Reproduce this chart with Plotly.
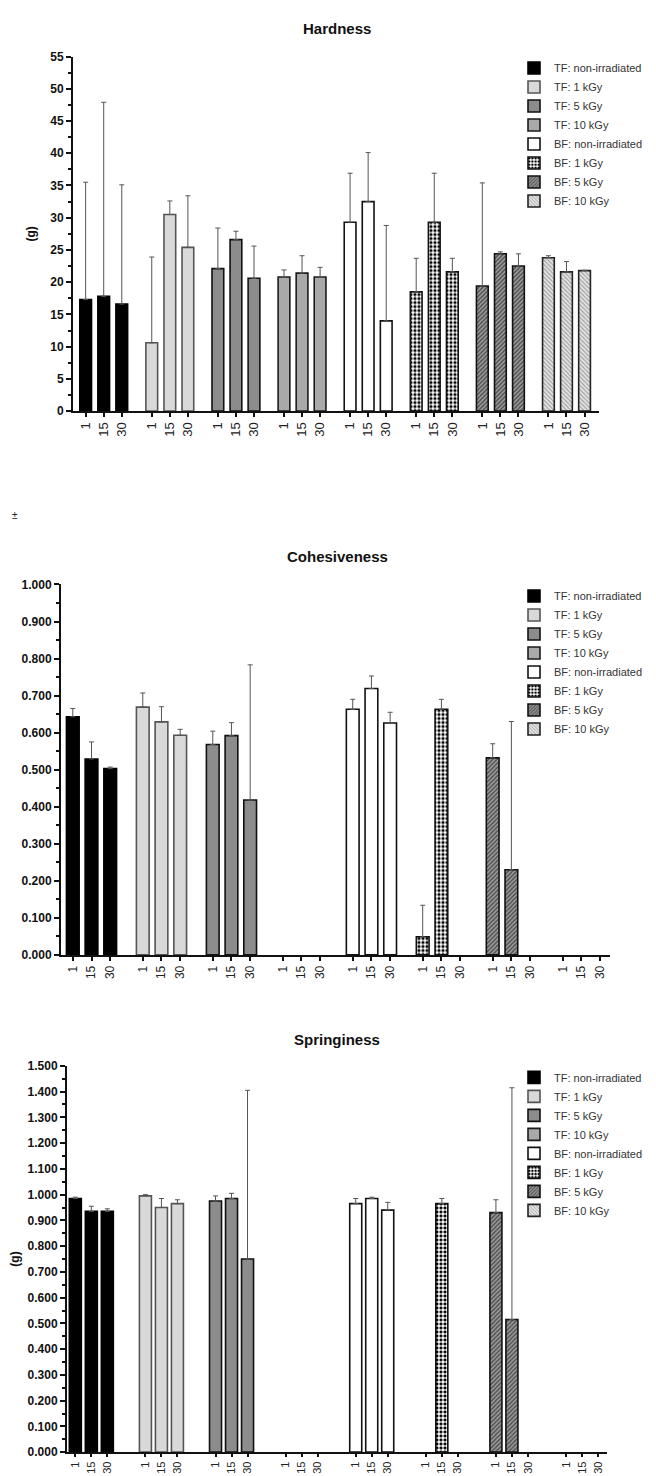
import plotly.graph_objects as go

W, H = 656, 1476

series_names = ["TF: non-irradiated", "TF: 1 kGy", "TF: 5 kGy", "TF: 10 kGy",
                "BF: non-irradiated", "BF: 1 kGy", "BF: 5 kGy", "BF: 10 kGy"]
days = ["1", "15", "30"]

hardness_mean = [[17.3, 17.8, 16.6], [10.6, 30.5, 25.4], [22.1, 26.6, 20.6], [20.8, 21.4, 20.8],
                 [29.3, 32.5, 14.0], [18.5, 29.3, 21.6], [19.4, 24.4, 22.5], [23.8, 21.6, 21.8]]
hardness_sd = [[18.2, 30.1, 18.5], [13.3, 2.1, 8.0], [6.3, 1.3, 5.0], [1.1, 2.7, 1.5],
               [7.6, 7.6, 14.8], [5.2, 7.6, 2.1], [16.0, 0.3, 1.9], [0.3, 1.6, 0.05]]

cohesiveness_mean = [[0.643, 0.529, 0.503], [0.669, 0.629, 0.593], [0.568, 0.592, 0.418], [None, None, None],
                     [0.663, 0.719, 0.626], [0.049, 0.663, None], [0.532, 0.230, None], [None, None, None]]
cohesiveness_sd = [[0.022, 0.046, 0.004], [0.038, 0.041, 0.016], [0.036, 0.035, 0.365], [None, None, None],
                   [0.027, 0.034, 0.029], [0.085, 0.027, None], [0.038, 0.400, None], [None, None, None]]

springiness_mean = [[0.985, 0.935, 0.935], [0.995, 0.950, 0.965], [0.975, 0.985, 0.750], [None, None, None],
                    [0.965, 0.985, 0.940], [None, 0.965, None], [0.930, 0.515, None], [None, None, None]]
springiness_sd = [[0.005, 0.020, 0.010], [0.005, 0.035, 0.015], [0.020, 0.020, 0.655], [None, None, None],
                  [0.020, 0.005, 0.030], [None, 0.020, None], [0.050, 0.900, None], [None, None, None]]

# styles per series
fills = ["#000000", "#d9d9d9", "#8c8c8c", "#a9a9a9", "#ffffff", "#ffffff", "#9a9a9a", "#e4e4e4"]
lines = ["#000000", "#555555", "#111111", "#1a1a1a", "#111111", "#111111", "#111111", "#222222"]
patterns = [None, None, None, None, None,
            dict(shape=".", fgcolor="#000000", bgcolor="#ffffff", size=4, solidity=0.5, fillmode="replace"),
            dict(shape="/", fgcolor="#444444", bgcolor="#9a9a9a", size=3, solidity=0.4, fillmode="replace"),
            dict(shape="\\", fgcolor="#9a9a9a", bgcolor="#e4e4e4", size=3, solidity=0.35, fillmode="replace")]

FONT = "Liberation Sans, Arial, sans-serif"

fig = go.Figure()

charts = [
    # name, means, sds, axis suffix, group pitch (slots), bar width, legend
    ("Hardness", hardness_mean, hardness_sd, "", 3.66, 0.65, "legend"),
    ("Cohesiveness", cohesiveness_mean, cohesiveness_sd, "2", 3.74, 0.68, "legend2"),
    ("Springiness", springiness_mean, springiness_sd, "3", 4.38, 0.75, "legend3"),
]

for title, means, sds, sfx, gp, bw, leg in charts:
    for g, name in enumerate(series_names):
        xs = [g * gp + i for i in range(3)]
        ys = means[g]
        errs = [s if s is not None else 0 for s in sds[g]]
        marker = dict(color=fills[g], line=dict(color=lines[g], width=1.6))
        if patterns[g] is not None:
            marker["pattern"] = patterns[g]
        fig.add_trace(go.Bar(
            x=xs, y=ys, width=bw, name=name, marker=marker,
            error_y=dict(type="data", symmetric=False, array=errs, arrayminus=[0, 0, 0],
                         color="#555555", thickness=1, width=2.5),
            xaxis="x" + sfx, yaxis="y" + sfx, legend=leg, showlegend=True,
        ))

def ydom(top, bottom):
    return [1 - bottom / H, 1 - top / H]

tickvals_h = [g * 3.66 + i for g in range(8) for i in range(3)]
tickvals_c = [g * 3.74 + i for g in range(8) for i in range(3)]
tickvals_s = [g * 4.38 + i for g in range(8) for i in range(3)]
ticktext = days * 8

def xaxis_style(size, ticklen):
    return dict(showline=True, linecolor="#111111", linewidth=2, showgrid=False, zeroline=False,
                ticks="outside", ticklen=ticklen, tickwidth=1.5, tickcolor="#111111", tickangle=-90,
                tickfont=dict(family=FONT, size=size, color="#222222"))

ycommon = dict(showline=True, linecolor="#111111", linewidth=2, showgrid=False, zeroline=False,
               ticks="outside", ticklen=5, tickwidth=2, tickcolor="#111111",
               tickfont=dict(family=FONT, size=12, color="#111111", weight="bold"))

fig.update_layout(
    width=W, height=H, margin=dict(l=0, r=0, t=0, b=0),
    paper_bgcolor="white", plot_bgcolor="white", barmode="overlay",
    font=dict(family=FONT),
    xaxis=dict(domain=[73 / W, 599 / W], range=[-0.70, 28.42], tickvals=tickvals_h, ticktext=ticktext,
               anchor="y", **xaxis_style(13, 4)),
    yaxis=dict(domain=ydom(50, 408), range=[0, 55], dtick=5, anchor="x",
               minor=dict(dtick=2.5, ticklen=3, tickwidth=1.5, tickcolor="#111111", ticks="outside"),
               title=dict(text="<b>(g)</b>", standoff=12, font=dict(family=FONT, size=12, color="#111111")),
               **ycommon),
    xaxis2=dict(domain=[61 / W, 610 / W], range=[-0.63, 28.71], tickvals=tickvals_c, ticktext=ticktext,
                anchor="y2", **xaxis_style(12, 4)),
    yaxis2=dict(domain=ydom(583, 957), range=[0, 1.0], dtick=0.1, tickformat=".3f", anchor="x2",
                minor=dict(dtick=0.05, ticklen=3, tickwidth=1.5, tickcolor="#111111", ticks="outside"),
                **ycommon),
    xaxis3=dict(domain=[67 / W, 607 / W], range=[-0.52, 33.22], tickvals=tickvals_s, ticktext=ticktext,
                anchor="y3", **xaxis_style(11, 3)),
    yaxis3=dict(domain=ydom(1069, 1459), range=[0, 1.5], dtick=0.1, tickformat=".3f", anchor="x3",
                minor=dict(dtick=0.05, ticklen=3, tickwidth=1.5, tickcolor="#111111", ticks="outside"),
                title=dict(text="<b>(g)</b>", standoff=5, font=dict(family=FONT, size=12, color="#111111")),
                **ycommon),
)

legcommon = dict(xanchor="left", yanchor="top", bgcolor="rgba(0,0,0,0)",
                 font=dict(family=FONT, size=11, color="#333333"), itemclick=False)
fig.update_layout(
    legend=dict(x=514 / W, y=1 - 47 / H, **legcommon),
    legend2=dict(x=514 / W, y=1 - 580 / H, **legcommon),
    legend3=dict(x=514 / W, y=1 - 1066 / H, **legcommon),
)

titles = [("Hardness", 22), ("Cohesiveness", 555), ("Springiness", 1042)]
for text, py in titles:
    fig.add_annotation(text="<b>" + text + "</b>", x=337 / W, y=1 - py / H, xref="paper", yref="paper",
                       showarrow=False, xanchor="center", yanchor="middle",
                       font=dict(family=FONT, size=15, color="#111111"))

fig.add_annotation(text="±", x=15 / W, y=1 - 513 / H, xref="paper", yref="paper", showarrow=False,
                   xanchor="center", yanchor="middle", font=dict(family=FONT, size=10, color="#222222"))

fig.write_html("out.html", config={"displayModeBar": False},
               post_script="document.body.style.margin='0';")
